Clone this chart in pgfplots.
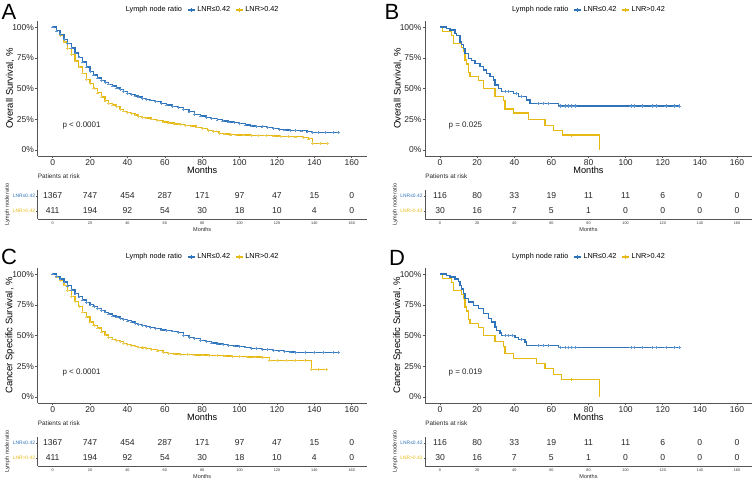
\documentclass[border=0pt]{standalone}
\usepackage{fontspec}
\setmainfont{Liberation Sans}
\usepackage{pgfplots}
\pgfplotsset{compat=1.18}
\usepackage{pgfplotstable}
\definecolor{blu}{HTML}{2F73BA}
\definecolor{yel}{HTML}{E6B914}
\definecolor{yelm}{HTML}{EACB55}
\definecolor{blum}{HTML}{5F96D0}
\definecolor{axc}{HTML}{555555}

\pgfplotsset{
  kmmain/.style={
    scale only axis, width=329pt, height=135pt,
    xmin=-8, xmax=168, ymin=-5, ymax=105,
    axis x line*=bottom, axis y line*=left,
    axis line style={axc, line width=0.8pt},
    xtick={0,20,...,160}, ytick={0,25,50,75,100},
    yticklabels={0\%,25\%,50\%,75\%,100\%},
    tick align=outside, major tick length=2.5pt,
    tick style={axc, line width=0.6pt},
    ticklabel style={font=\fontsize{8.5}{9}\selectfont, text=black!85},
    xticklabel style={inner sep=1pt, /pgf/number format/assume math mode=true},
    yticklabel style={inner sep=1pt},
    xlabel={Months},
    xlabel style={at={(axis description cs:0.5,-0.104)}, anchor=center, font=\fontsize{9.2}{10}\selectfont},
    ylabel style={at={(axis description cs:-0.0842,0.5)}, anchor=center, font=\fontsize{9.5}{10}\selectfont},
    legend style={at={(axis description cs:0.5,1.081)}, anchor=center, draw=none, fill=none,
      font=\fontsize{7.3}{8}\selectfont, legend columns=-1,
      /tikz/every even column/.append style={column sep=3pt}},
    legend image code/.code={\draw[mark repeat=2,mark phase=2,#1] plot coordinates {(0pt,0pt) (3.5pt,0pt) (7pt,0pt)};},
  },
  kmtab/.style={
    scale only axis, width=329pt, height=29pt,
    xmin=-8, xmax=168, ymin=0.467, ymax=2.4,
    axis x line*=bottom, axis y line*=left,
    axis line style={axc, line width=0.8pt},
    xtick={0,20,...,160}, ytick={2},
    yticklabels={LNR≤0.42},
    extra y ticks={1}, extra y tick labels={LNR>0.42},
    extra y tick style={yticklabel style={text=yel}},
    tick align=outside, major tick length=1.5pt,
    tick style={axc, line width=0.5pt},
    xticklabel style={font=\fontsize{3.8}{4}\selectfont, text=black!80, inner sep=0.8pt, /pgf/number format/assume math mode=true},
    yticklabel style={font=\fontsize{4.9}{5}\selectfont, inner sep=1pt, text=blu},
    xlabel={Months},
    xlabel style={at={(axis description cs:0.5,-0.379)}, anchor=center, font=\fontsize{5.5}{6}\selectfont, text=black!85},
    ylabel={Lymph node ratio},
    ylabel style={at={(axis description cs:-0.092,0.5)}, anchor=center, font=\fontsize{5.5}{6}\selectfont, text=black!85},
    title={Patients at risk},
    title style={at={(axis description cs:0,1.276)}, anchor=west, inner sep=0pt, font=\fontsize{6.4}{7}\selectfont, text=black!85},
  },
  risk/.style={draw=none, nodes near coords, point meta=explicit symbolic,
    nodes near coords align={center},
    every node near coord/.append style={font=\fontsize{8.6}{9}\selectfont, text=black!85}},
  yelbig/.style={yel, const plot, line width=1.3pt, mark=+, mark size=1.3pt, mark options={line width=0.5pt, draw=yelm}},
  blubig/.style={blu, const plot, line width=1.3pt, mark=+, mark size=1.3pt, mark options={line width=0.5pt, draw=blum}},
  yelsmall/.style={draw=yel, const plot, line width=1.3pt},
  blusmall/.style={draw=blu, const plot, line width=1.3pt},
  yelcens/.style={draw=yel, only marks, mark=+, mark size=1.6pt, mark options={line width=0.7pt, draw=yel}},
  blucens/.style={draw=blu, only marks, mark=+, mark size=1.6pt, mark options={line width=0.6pt, draw=blum}},
  legblu/.style={draw=blu, line width=1.3pt, mark=+, mark size=1.8pt, mark options={draw=blu, line width=0.8pt}},
  legyel/.style={draw=yel, line width=1.3pt, mark=+, mark size=1.8pt, mark options={draw=yel, line width=0.8pt}},
}

\pgfplotstableread{
x y n
0 2 1367
20 2 747
40 2 454
60 2 287
80 2 171
100 2 97
120 2 47
140 2 15
160 2 0
0 1 411
20 1 194
40 1 92
60 1 54
80 1 30
100 1 18
120 1 10
140 1 4
160 1 0
}\riskAC

\pgfplotstableread{
x y n
0 2 116
20 2 80
40 2 33
60 2 19
80 2 11
100 2 11
120 2 6
140 2 0
160 2 0
0 1 30
20 1 16
40 1 7
60 1 5
80 1 1
100 1 0
120 1 0
140 1 0
160 1 0
}\riskBD

\begin{document}
\begin{tikzpicture}
\useasboundingbox (0pt,0pt) rectangle (753pt,481pt);

% ---------------- Panel A ----------------
\begin{axis}[kmmain, at={(37.7pt,325pt)}, anchor=south west, ylabel={Overall Survival, \%}]
\addlegendimage{empty legend}
\addlegendimage{legblu}
\addlegendimage{legyel}
\legend{Lymph node ratio, LNR≤0.42, LNR>0.42}
\addplot[yelbig] coordinates {
(0,100)(2,97)(4,93)(6,88)(8,82.5)(10,77.5)(12,72.5)(14,67.5)(16,62.5)(18,57.5)
(20,54)(22,50)(24,46.5)(26,43)(28,40)(30,38)(32,36.5)(34,35.5)(36,33)(38,31.5)
(40,30.5)(42,29.5)(44,28.5)(46,27)(48,26.5)(50,26)(53,25)(56,24)(59,22.8)(62,21.8)
(65,21)(68,20.5)(71,20)(74,19.5)(77,18.5)(80,17.5)(83,16)(86,15)(89,13.5)(92,12.8)
(95,12.3)(98,12.2)(102,12.0)(106,11.8)(110,11.6)(114,11.5)(118,11.2)(122,11)(126,10.8)(130,10.6)
(134,10.3)(137,9.0)(139,5.4)(143,5.4)(147,5.4)};
\addplot[blubig] coordinates {
(0,100)(2,97)(4,94)(6,90)(8,86.5)(10,83)(12,79)(14,75.5)(16,71.5)(18,67.5)
(20,64)(22,61)(24,58.5)(26,56.5)(28,55)(30,53.5)(32,52)(34,50.5)(36,49)(38,47.5)
(40,46)(42,45)(44,44)(46,43)(48,42)(50,41)(52,40.5)(55,39.5)(58,38)(61,36.5)
(64,35.5)(67,34.5)(70,33)(73,31)(76,29)(79,27.5)(82,26.5)(85,25.5)(88,24.5)(91,23.5)
(94,22.8)(97,22.2)(100,21.5)(103,20.3)(106,19.5)(109,19.2)(112,18.8)(115,18.2)(118,17.5)(121,16.8)
(124,16.2)(127,15.9)(130,15.7)(133,15.5)(136,14.7)(139,14.1)(142,14.1)(146,14.0)(150,14.0)(153,14.0)};
\node[anchor=west, font=\fontsize{8}{9}\selectfont, text=black!85] at (axis cs:3.4,19.5) {p < 0.0001};
\end{axis}

\begin{axis}[kmtab, at={(37.7pt,262pt)}, anchor=south west]
\addplot[risk] table[x=x, y=y, meta=n] {\riskAC};
\end{axis}

% ---------------- Panel B ----------------
\begin{axis}[kmmain, width=326.6pt, at={(425.2pt,325pt)}, anchor=south west, ylabel={Overall Survival, \%}]
\addlegendimage{empty legend}
\addlegendimage{legblu}
\addlegendimage{legyel}
\legend{Lymph node ratio, LNR≤0.42, LNR>0.42}
\addplot[yelsmall] coordinates {
(0,100)(1.2,96.7)(6.3,93.3)(7.2,86.7)(11.7,83.3)(12.6,80)(13.5,73.3)(14.4,70)(15.3,63.3)(16.2,60)
(20.6,56.7)(23.3,50)(29.6,43.3)(34.1,40)(35,33.3)(39.5,30)(47.6,25)(56.6,20)(61,16)(65.8,12)(85.8,0)};
\addplot[yelcens] coordinates {(70.9,12)};
\addplot[blusmall] coordinates {
(0,100)(3.6,99.1)(5.4,97.6)(8.1,95)(9.0,93)(10.8,88)(11.7,86)(12.6,82.7)(13.5,78.6)(15.3,74.5)
(17.1,73)(18.9,70.5)(21.6,67.8)(23.3,65)(25.1,62)(26.9,59.6)(28.7,57)(29.6,52.8)(31.4,50)(33.2,47.4)
(39.5,46)(42.2,43.3)(46.7,40.7)(48.5,38)(63.8,35.8)(129,35.8)};
\addplot[blucens] coordinates {
(35,47.4)(37,47.4)(41,46)(44,43.3)(52.9,38)(55.6,38)(58.3,38)(64.6,35.8)(67.3,35.8)(69.1,35.8)(70.9,35.8)(72.7,35.8)
(102.9,35.8)(104.7,35.8)(109.2,35.8)(114.6,35.8)(116.4,35.8)(121.8,35.8)(126.3,35.8)(129,35.8)};
\node[anchor=west, font=\fontsize{8}{9}\selectfont, text=black!85] at (axis cs:2.7,19.5) {p = 0.025};
\end{axis}

\begin{axis}[kmtab, width=326.6pt, at={(425.2pt,262pt)}, anchor=south west]
\addplot[risk] table[x=x, y=y, meta=n] {\riskBD};
\end{axis}

% ---------------- Panel C ----------------
\begin{axis}[kmmain, at={(37.7pt,78pt)}, anchor=south west, ylabel={Cancer Specific Survival, \%}]
\addlegendimage{empty legend}
\addlegendimage{legblu}
\addlegendimage{legyel}
\legend{Lymph node ratio, LNR≤0.42, LNR>0.42}
\addplot[yelbig] coordinates {
(0,100)(2,97.5)(4,95)(6,91)(8,86.5)(10,82)(12,77.5)(14,73.5)(16,69)(18,65)
(20,61)(22,58)(24,56)(26,53)(28,50.5)(30,48.5)(32,47)(34,46)(36,45)(38,43.5)
(40,42.5)(42,41.8)(44,41.3)(46,40.5)(48,40)(50,39.3)(53,38.5)(56,37.5)(59,36)(62,35.3)
(65,35)(68,34.7)(72,34.5)(76,34.2)(80,34)(84,33.8)(88,33.6)(92,33.3)(96,32.9)(100,32.7)
(104,32.5)(108,32.4)(112,32.3)(116,29.5)(120,29.5)(125,29.5)(130,29.5)(135,29.5)(138.6,22.5)(142,22.5)(146.6,22.5)};
\addplot[blubig] coordinates {
(0,100)(2,98)(4,96)(6,93.5)(8,90.5)(10,87)(12,84)(14,81.5)(16,79)(18,77)
(20,75)(22,73.5)(24,72)(26,70.5)(28,69)(30,67.5)(32,66)(34,65)(36,64)(38,63)
(40,62)(42,61)(44,60)(46,59)(48,58)(50,57.3)(52,56.7)(55,55.5)(58,54.5)(61,54)
(64,53.5)(67,52.5)(70,50)(73,48.5)(76,47.5)(79,46)(82,45)(85,44)(88,43)(91,42.5)
(94,42)(97,41.5)(100,41)(103,40.5)(106,39.6)(109,39.2)(112,38.8)(115,38.5)(118,38)(121,37.5)
(124,37)(127,36.5)(130,36.3)(135,36.2)(140,36)(145,36)(150,36)(153,36)};
\node[anchor=west, font=\fontsize{8}{9}\selectfont, text=black!85] at (axis cs:3.4,19.8) {p < 0.0001};
\end{axis}

\begin{axis}[kmtab, at={(37.7pt,15pt)}, anchor=south west]
\addplot[risk] table[x=x, y=y, meta=n] {\riskAC};
\end{axis}

% ---------------- Panel D ----------------
\begin{axis}[kmmain, width=326.6pt, at={(425.2pt,78pt)}, anchor=south west, ylabel={Cancer Specific Survival, \%}]
\addlegendimage{empty legend}
\addlegendimage{legblu}
\addlegendimage{legyel}
\legend{Lymph node ratio, LNR≤0.42, LNR>0.42}
\addplot[yelsmall] coordinates {
(0,100)(1.5,96.7)(6.3,93.3)(7.2,86.7)(11.7,83.3)(12.6,80)(13.5,73.3)(14.4,70)(15.3,63.3)(16.2,60)
(20.6,56.7)(23.3,50)(29.6,45)(34.1,41)(35,35.5)(39.5,31.5)(52.1,27)(56.6,23)(61.1,18)(65.6,14)(85.8,0)};
\addplot[yelcens] coordinates {(70.9,14)};
\addplot[blusmall] coordinates {
(0,100)(3.6,99.1)(5.4,97.6)(8.1,96)(9.9,94)(10.8,91)(11.7,88)(12.6,84)(13.5,80)(15.3,77.2)
(17.9,74.5)(20.6,71.8)(23.3,67.8)(26,63.7)(27.8,61)(29.6,56.9)(30.5,54.2)(32.3,52)(33.2,50)
(40.4,48.2)(42.2,46.6)(45.8,44.7)(46.7,42)(63.8,40.1)(129,40.1)};
\addplot[blucens] coordinates {
(35,50)(37,50)(39,50)(44,46.6)(52.9,42)(55.6,42)(58.3,42)(64.6,40.1)(67.3,40.1)(69.1,40.1)(70.9,40.1)(72.7,40.1)
(102.9,40.1)(104.7,40.1)(109.2,40.1)(114.6,40.1)(116.4,40.1)(121.8,40.1)(126.3,40.1)(129,40.1)};
\node[anchor=west, font=\fontsize{8}{9}\selectfont, text=black!85] at (axis cs:2.7,19.8) {p = 0.019};
\end{axis}

\begin{axis}[kmtab, width=326.6pt, at={(425.2pt,15pt)}, anchor=south west]
\addplot[risk] table[x=x, y=y, meta=n] {\riskBD};
\end{axis}

% panel letters
\node[font=\fontsize{22}{22}\selectfont] at (9pt,469pt) {A};
\node[font=\fontsize{22}{22}\selectfont] at (392pt,469pt) {B};
\node[font=\fontsize{22}{22}\selectfont] at (9pt,224.5pt) {C};
\node[font=\fontsize{22}{22}\selectfont] at (397pt,223.5pt) {D};
\end{tikzpicture}
\end{document}
